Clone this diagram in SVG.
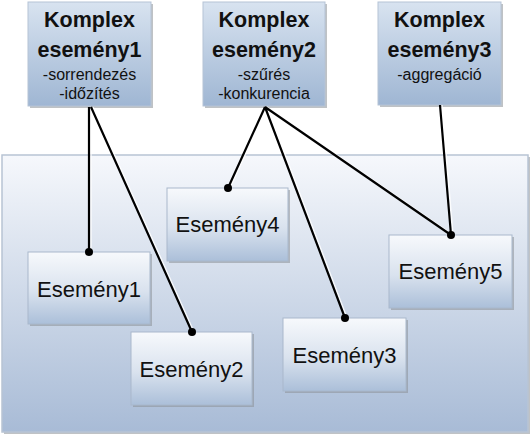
<svg xmlns="http://www.w3.org/2000/svg" width="531" height="435" viewBox="0 0 531 435">
<defs>
<linearGradient id="gTop" x1="0" y1="0" x2="0" y2="1">
<stop offset="0" stop-color="#d8e3f0"/>
<stop offset="1" stop-color="#9fb6d3"/>
</linearGradient>
<linearGradient id="gBox" x1="0" y1="0" x2="0" y2="1">
<stop offset="0" stop-color="#f7f9fc"/>
<stop offset="0.55" stop-color="#d9e2ee"/>
<stop offset="1" stop-color="#abbfd9"/>
</linearGradient>
<linearGradient id="gCont" x1="0" y1="0" x2="0" y2="1">
<stop offset="0" stop-color="#f6f8fc"/>
<stop offset="1" stop-color="#a8bbd6"/>
</linearGradient>
</defs>
<style>
.sh{fill:#8a8f96;opacity:0.55}
.top{fill:url(#gTop);stroke:#b5c3d6;stroke-width:1}
.box{fill:url(#gBox);stroke:#a9b8cc;stroke-width:1}
.cont{fill:url(#gCont);stroke:#b8c4d4;stroke-width:1.5}
.t1{font-family:"Liberation Sans",Arial,sans-serif;font-weight:bold;font-size:21.5px;fill:#111;text-anchor:middle}
.t2{font-family:"Liberation Sans",Arial,sans-serif;font-size:16px;fill:#111;text-anchor:middle}
.t3{font-family:"Liberation Sans",Arial,sans-serif;font-size:22px;fill:#111;text-anchor:middle}
.ln{stroke:#000;stroke-width:2.2;fill:none}
.lns{stroke:#ffffff;stroke-width:1.5;fill:none;opacity:0.8}
.dot{fill:#000}
</style>
<rect x="0" y="0" width="531" height="435" fill="#ffffff"/>
<g id="container">
<rect class="sh" x="4" y="157" width="526" height="277"/>
<rect class="cont" x="2" y="155" width="526" height="277"/>
</g>
<g id="komplex1">
<rect class="sh" x="30" y="4" width="123" height="104"/>
<rect class="top" x="28" y="2" width="123" height="104"/>
<text class="t1" x="89.5" y="27">Komplex</text>
<text class="t1" x="89.5" y="57">esemény1</text>
<text class="t2" x="89.5" y="80">-sorrendezés</text>
<text class="t2" x="89.5" y="99">-időzítés</text>
</g>
<g id="komplex2">
<rect class="sh" x="205" y="4" width="122" height="104"/>
<rect class="top" x="203" y="2" width="122" height="104"/>
<text class="t1" x="264" y="27">Komplex</text>
<text class="t1" x="264" y="57">esemény2</text>
<text class="t2" x="264" y="80">-szűrés</text>
<text class="t2" x="264" y="99">-konkurencia</text>
</g>
<g id="komplex3">
<rect class="sh" x="380" y="4" width="123" height="103"/>
<rect class="top" x="378" y="2" width="123" height="103"/>
<text class="t1" x="439.5" y="27">Komplex</text>
<text class="t1" x="439.5" y="57">esemény3</text>
<text class="t2" x="439.5" y="80">-aggregáció</text>
</g>
<g id="esemeny1">
<rect class="sh" x="30" y="254" width="122" height="72"/>
<rect class="box" x="28" y="252" width="122" height="72"/>
<text class="t3" x="89" y="297">Esemény1</text>
</g>
<g id="esemeny2">
<rect class="sh" x="133" y="334" width="121" height="73"/>
<rect class="box" x="131" y="332" width="121" height="73"/>
<text class="t3" x="191.5" y="377">Esemény2</text>
</g>
<g id="esemeny3">
<rect class="sh" x="285" y="320" width="123" height="73"/>
<rect class="box" x="283" y="318" width="123" height="73"/>
<text class="t3" x="344.5" y="363">Esemény3</text>
</g>
<g id="esemeny4">
<rect class="sh" x="169" y="190" width="121" height="73"/>
<rect class="box" x="167" y="188" width="121" height="73"/>
<text class="t3" x="227.5" y="232">Esemény4</text>
</g>
<g id="esemeny5">
<rect class="sh" x="391" y="237" width="123" height="73"/>
<rect class="box" x="389" y="235" width="123" height="73"/>
<text class="t3" x="450.5" y="279">Esemény5</text>
</g>
<g id="connectors">
<path class="lns" d="M91 107 L91 252 M93 107 L194 332 M267 107 L230 188 M267 107 L347 318 M267 107 L453 235 M442 105 L453 235"/>
<path class="ln" d="M89 107 L89 252 M91 107 L192 332 M265 107 L228 188 M265 107 L345 318 M265 107 L451 235 M440 105 L451 235"/>
<circle class="dot" cx="89" cy="252" r="4"/>
<circle class="dot" cx="192" cy="332" r="4"/>
<circle class="dot" cx="228" cy="188" r="4"/>
<circle class="dot" cx="345" cy="318" r="4"/>
<circle class="dot" cx="451" cy="235" r="4"/>
</g>
</svg>
